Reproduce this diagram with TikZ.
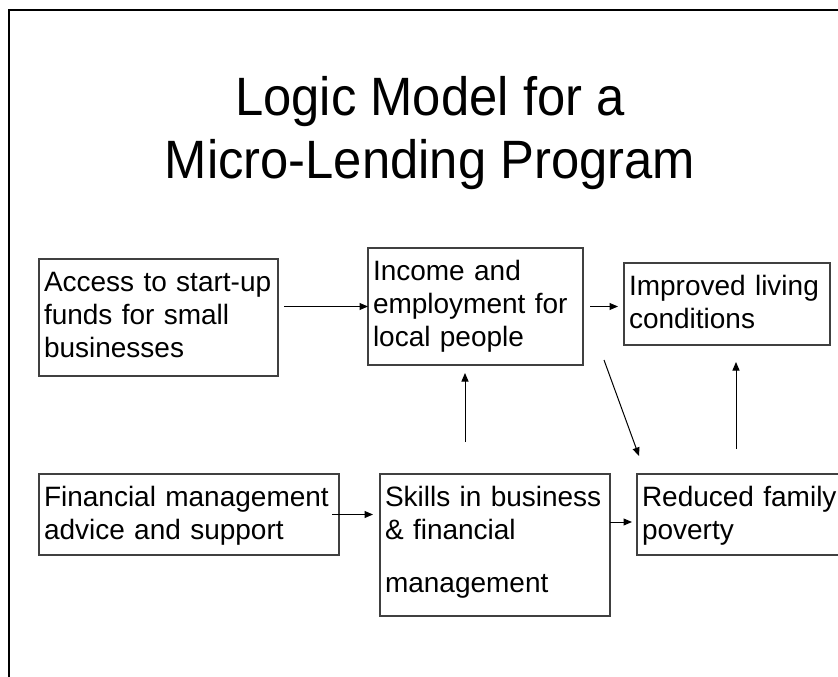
\documentclass[tikz,border=0pt]{standalone}
\usepackage{fontspec}
\setmainfont{Liberation Sans}
\newfontfamily\titlefont[FakeStretch=0.94]{Liberation Sans}
\usetikzlibrary{arrows.meta}
\tikzset{
    box/.style={draw=black!75, line width=1.2pt, anchor=north west, outer sep=0pt,
      inner xsep=5pt, inner ysep=0pt, align=left, text height=32pt,
      font=\fontsize{28}{33}\selectfont},
    arr/.style={line width=1pt, -{Triangle[length=8.5pt, width=7pt]}},
    frame/.style={line width=2.5pt},
    heading/.style={font=\titlefont\fontsize{54}{63}\selectfont, align=center, anchor=base}
}
\begin{document}
\begin{tikzpicture}[x=1pt, y=-1pt]
  \path [use as bounding box, clip] (0,0) rectangle (838,677);
  \draw [frame] (9,690) -- (9,10) -- (850,10);
  \node [heading] (title) at (430,178) {Logic Model for a\\Micro-Lending Program};
  % top row
  \node [box, text width=229pt, text depth=85pt] (access) at (39,259)
    {Access to start-up\\funds for small\\businesses};
  \node [box, text width=205pt, text depth=85pt] (income) at (368,248)
    {Income and\\employment for\\local people};
  \node [box, text width=196pt, text depth=50pt] (improved) at (624,263)
    {Improved living\\conditions};
  % bottom row
  \node [box, text width=290pt, text depth=49pt] (financial) at (39,474)
    {Financial management\\advice and support};
  \node [box, text width=220pt, text depth=110pt] (skills) at (380,474)
    {Skills in business\\\& financial\\[20pt]management};
  \node [box, text width=240pt, text depth=49pt] (reduced) at (637,474)
    {Reduced family\\poverty};
  % links
  \draw [arr, shorten <=6pt] (income.west -| access.east) -- (income.west);
  \draw [arr, shorten <=7pt, shorten >=6pt] (income.east) -- (income.east -| improved.west);
  \draw [arr, shorten <=-7pt, shorten >=7pt] (financial.east) -- (financial.east -| skills.west);
  \draw [arr, shorten >=5pt] (skills.east |- 0,522) -- (reduced.west |- 0,522);
  \draw [arr, shorten <=32pt, shorten >=8pt] (skills.north -| 465,0) -- (income.south -| 465,0);
  \draw [arr, shorten <=25pt, shorten >=17pt] (reduced.north -| 736,0) -- (improved.south -| 736,0);
  \draw [arr] ([xshift=21pt, yshift=5pt]income.south east) -- ([xshift=2pt, yshift=18pt]reduced.north west);
\end{tikzpicture}
\end{document}
